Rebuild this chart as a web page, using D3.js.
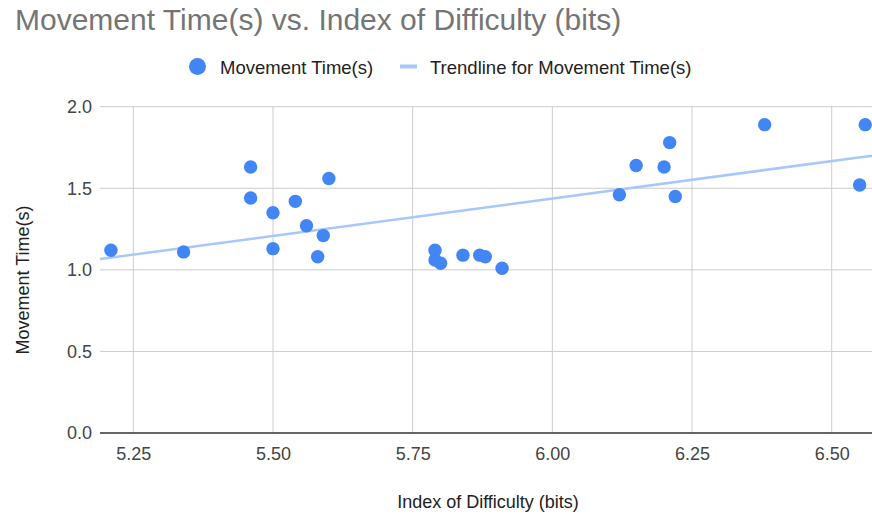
<!DOCTYPE html>
<html>
<head>
<meta charset="utf-8">
<script src="https://cdn.jsdelivr.net/npm/d3@7"></script>
<style>
  body { margin: 0; background: #fff; }
  svg { display: block; }
</style>
</head>
<body>
<svg id="chart"></svg>
<script>
const width = 872, height = 518;

// Data
const indexOfDifficulty = [
  5.21, 5.34, 5.46, 5.46, 5.50, 5.50, 5.54, 5.56, 5.59, 5.58, 5.60,
  5.79, 5.79, 5.80, 5.84, 5.87, 5.88, 5.91,
  6.12, 6.15, 6.20, 6.21, 6.22, 6.38, 6.56, 6.55
];
const movementTime = [
  1.12, 1.11, 1.63, 1.44, 1.35, 1.13, 1.42, 1.27, 1.21, 1.08, 1.56,
  1.12, 1.06, 1.04, 1.09, 1.09, 1.08, 1.01,
  1.46, 1.64, 1.63, 1.78, 1.45, 1.89, 1.89, 1.52
];
// Trendline ends
const trendX = [5.1904, 6.5721];
const trendY = [1.066, 1.70];
const xTicks = [5.25, 5.50, 5.75, 6.00, 6.25, 6.50];
const yTicks = [0, 0.5, 1.0, 1.5, 2.0];

const title = "Movement Time(s) vs. Index of Difficulty (bits)";
const seriesName = "Movement Time(s)";
const trendName = "Trendline for Movement Time(s)";

const pointCol = "#4285f4";
const trendCol = "#a8c7fa";
const font = "'Liberation Sans', Arial, sans-serif";

let margin = { top: 106.7, right: 0, bottom: 85, left: 100 };

const svg = d3.select("#chart")
  .attr("width", width)
  .attr("height", height)
  .attr("viewBox", [0, 0, width, height])
  .style("font-family", font);

// Scales
let xScale = d3.scaleLinear()
  .domain([5.1904, 6.5721])
  .range([margin.left, width - margin.right]);

let yScale = d3.scaleLinear()
  .domain([0, 2])
  .range([433, margin.top]);

// Gridlines
svg.append("g")
  .selectAll("line")
  .data(yTicks.filter(d => d !== 0))
  .join("line")
  .attr("x1", margin.left)
  .attr("x2", width - margin.right)
  .attr("y1", d => yScale(d))
  .attr("y2", d => yScale(d))
  .attr("stroke", "#cccccc")
  .attr("stroke-width", 1);

svg.append("g")
  .selectAll("line")
  .data(xTicks)
  .join("line")
  .attr("x1", d => xScale(d))
  .attr("x2", d => xScale(d))
  .attr("y1", yScale(2))
  .attr("y2", yScale(0))
  .attr("stroke", "#cccccc")
  .attr("stroke-width", 1);

// Axes (labels only, Google style)
let xAxis = d3.axisBottom(xScale).tickValues(xTicks).tickFormat(d3.format(".2f")).tickSize(0).tickPadding(14);
let yAxis = d3.axisLeft(yScale).tickValues(yTicks).tickFormat(d3.format(".1f")).tickSize(0).tickPadding(8);

svg.append("g")
  .attr("transform", `translate(0,${yScale(0)})`)
  .call(xAxis)
  .call(g => g.select(".domain").remove())
  .attr("font-size", 18)
  .attr("font-family", font)
  .selectAll("text")
  .attr("dy", "0.71em")
  .style("fill", "#444");

svg.append("g")
  .attr("transform", `translate(${margin.left},0)`)
  .call(yAxis)
  .call(g => g.select(".domain").remove())
  .attr("font-size", 18)
  .attr("font-family", font)
  .selectAll("text")
  .style("fill", "#444");

// Baseline
svg.append("line")
  .attr("x1", margin.left)
  .attr("x2", width - margin.right)
  .attr("y1", yScale(0))
  .attr("y2", yScale(0))
  .attr("stroke", "#333")
  .attr("stroke-width", 1.5);

// Trendline
svg.append("line")
  .attr("x1", xScale(trendX[0]))
  .attr("x2", xScale(trendX[1]))
  .attr("y1", yScale(trendY[0]))
  .attr("y2", yScale(trendY[1]))
  .attr("stroke", trendCol)
  .attr("stroke-width", 2.5);

// Points
svg.append("g")
  .selectAll("circle")
  .data(indexOfDifficulty)
  .join("circle")
  .attr("cx", d => xScale(d))
  .attr("cy", (d, i) => yScale(movementTime[i]))
  .attr("r", 6.7)
  .attr("fill", pointCol);

// Title
svg.append("text")
  .attr("x", 15)
  .attr("y", 30)
  .attr("font-size", 30)
  .style("fill", "#757575")
  .text(title);

// Legend
svg.append("circle")
  .attr("cx", 197.5)
  .attr("cy", 66.5)
  .attr("r", 8.5)
  .attr("fill", pointCol);

svg.append("text")
  .attr("x", 220)
  .attr("y", 73.5)
  .attr("font-size", 18.5)
  .style("fill", "#222")
  .text(seriesName);

svg.append("line")
  .attr("x1", 400)
  .attr("x2", 417)
  .attr("y1", 66.5)
  .attr("y2", 66.5)
  .attr("stroke", trendCol)
  .attr("stroke-width", 4);

svg.append("text")
  .attr("x", 430)
  .attr("y", 73.5)
  .attr("font-size", 18.5)
  .style("fill", "#222")
  .text(trendName);

// Axis titles
svg.append("text")
  .attr("x", 488)
  .attr("y", 508)
  .attr("text-anchor", "middle")
  .attr("font-size", 18)
  .style("fill", "#222")
  .text("Index of Difficulty (bits)");

svg.append("text")
  .attr("transform", "rotate(-90)")
  .attr("x", -280)
  .attr("y", 23)
  .attr("dy", "0.35em")
  .attr("text-anchor", "middle")
  .attr("font-size", 18)
  .style("fill", "#222")
  .text("Movement Time(s)");
</script>
</body>
</html>
